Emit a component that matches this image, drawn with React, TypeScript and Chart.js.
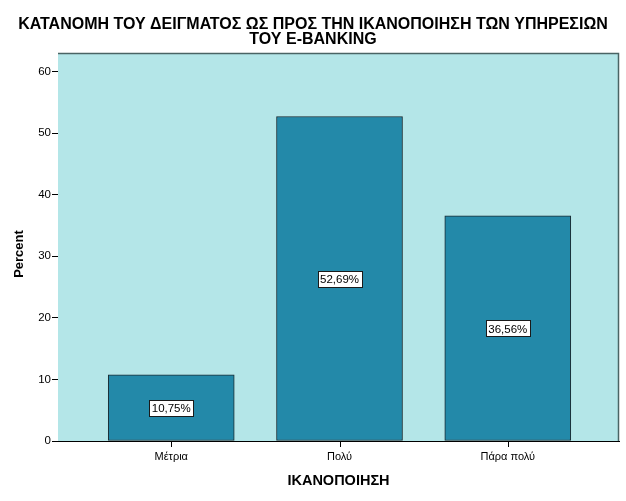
import React from "react";
import { Chart, ChartConfiguration, Plugin, registerables } from "chart.js";

Chart.register(...registerables);

const categories = ["Μέτρια", "Πολύ", "Πάρα πολύ"];
const percents = [10.75, 52.69, 36.56];
const valueLabels = ["10,75%", "52,69%", "36,56%"];
const yTicks = [0, 10, 20, 30, 40, 50, 60];
const titleLines = [
  "ΚΑΤΑΝΟΜΗ ΤΟΥ ΔΕΙΓΜΑΤΟΣ ΩΣ ΠΡΟΣ ΤΗΝ ΙΚΑΝΟΠΟΙΗΣΗ ΤΩΝ ΥΠΗΡΕΣΙΩΝ",
  "ΤΟΥ E-BANKING",
];
const xTitle = "ΙΚΑΝΟΠΟΙΗΣΗ";
const yTitle = "Percent";

const FONT = '"Liberation Sans", Arial, sans-serif';

const spssPlugin: Plugin<"bar"> = {
  id: "spssLook",
  beforeDatasetsDraw(chart) {
    const { ctx, chartArea: a } = chart;
    ctx.save();
    ctx.fillStyle = "#b4e6e8";
    ctx.fillRect(a.left, a.top, a.right - a.left, a.bottom - a.top);
    ctx.restore();
  },
  afterDatasetsDraw(chart) {
    const { ctx, chartArea: a } = chart;
    ctx.save();
    // frame
    ctx.strokeStyle = "#4a6464";
    ctx.lineWidth = 1.5;
    ctx.beginPath();
    ctx.moveTo(a.left, a.top + 0.5);
    ctx.lineTo(a.right - 0.5, a.top + 0.5);
    ctx.lineTo(a.right - 0.5, a.bottom);
    ctx.stroke();

    // x tick marks under the category bars
    const xScale = chart.scales.x;
    ctx.strokeStyle = "#000000";
    ctx.lineWidth = 1;
    categories.forEach((_, i) => {
      const px = Math.round(xScale.getPixelForValue(i)) + 0.5;
      ctx.beginPath();
      ctx.moveTo(px, a.bottom);
      ctx.lineTo(px, a.bottom + 6);
      ctx.stroke();
    });

    // value labels in boxes
    const meta = chart.getDatasetMeta(0);
    const yScale = chart.scales.y;
    ctx.font = `11.5px ${FONT}`;
    ctx.textAlign = "center";
    ctx.textBaseline = "middle";
    meta.data.forEach((bar, i) => {
      const x = bar.x;
      const y = yScale.getPixelForValue(percents[i] / 2);
      const label = valueLabels[i];
      const w = Math.round(ctx.measureText(label).width + 5);
      const h = 16;
      const bx = Math.round(x - w / 2) + 0.5;
      const by = Math.round(y - h / 2) + 0.5;
      ctx.fillStyle = "#ffffff";
      ctx.fillRect(bx, by, w, h);
      ctx.strokeStyle = "#1a1a1a";
      ctx.lineWidth = 1;
      ctx.strokeRect(bx, by, w, h);
      ctx.fillStyle = "#000000";
      ctx.fillText(label, x, y + 1);
    });
    ctx.restore();
  },
  afterDraw(chart) {
    const { ctx, chartArea: a } = chart;
    ctx.save();
    ctx.fillStyle = "#000000";
    ctx.textAlign = "center";
    ctx.textBaseline = "alphabetic";

    ctx.font = `bold 16px ${FONT}`;
    ctx.fillText(titleLines[0], 313, 29);
    ctx.fillText(titleLines[1], 313, 43.5);

    ctx.font = `bold 14.5px ${FONT}`;
    ctx.fillText(xTitle, (a.left + a.right) / 2, 484.5);

    ctx.font = `bold 13px ${FONT}`;
    ctx.translate(23, 254);
    ctx.rotate(-Math.PI / 2);
    ctx.fillText(yTitle, 0, 0);
    ctx.restore();
  },
};

const App: React.FC = () => {
  const canvasRef = React.useRef<HTMLCanvasElement | null>(null);
  const chartRef = React.useRef<Chart<"bar"> | null>(null);

  React.useEffect(() => {
    const ctx = canvasRef.current;
    if (!ctx) return;

    chartRef.current?.destroy();

    const config: ChartConfiguration<"bar"> = {
      type: "bar",
      data: {
        datasets: [
          {
            data: percents.map((p, i) => ({ x: i, y: p })) as any,
            backgroundColor: "#2389a9",
            borderColor: "#1a2a30",
            borderWidth: 1,
            borderSkipped: false,
            barThickness: 126,
          },
        ],
      },
      options: {
        animation: false,
        responsive: true,
        maintainAspectRatio: false,
        layout: { padding: { top: 53, right: 7, left: 0, bottom: 0 } },
        plugins: {
          legend: { display: false },
          tooltip: { enabled: false },
          title: { display: false },
        },
        scales: {
          x: {
            type: "linear",
            offset: false,
            min: -0.673,
            max: 2.661,
            afterBuildTicks: (scale) => {
              scale.ticks = categories.map((_, i) => ({ value: i }));
            },
            afterFit: (scale) => {
              scale.height = 60;
            },
            border: { display: true, color: "#000000", width: 1 },
            grid: {
              offset: false,
              display: false,
            },
            ticks: {
              color: "#000000",
              padding: 1,
              font: { family: FONT, size: 11 },
              maxRotation: 0,
              callback: (v) => categories[Number(v)] ?? "",
            },
          },
          y: {
            min: 0,
            max: 63,
            afterBuildTicks: (scale) => {
              scale.ticks = yTicks.map((v) => ({ value: v }));
            },
            afterFit: (scale) => {
              scale.width = 58;
            },
            border: { display: true, color: "#000000", width: 1 },
            grid: {
              drawOnChartArea: false,
              drawTicks: true,
              tickLength: 6,
              color: "#000000",
            },
            ticks: {
              color: "#000000",
              padding: 1,
              font: { family: FONT, size: 11.5 },
            },
          },
        },
      },
      plugins: [spssPlugin],
    };

    chartRef.current = new Chart(ctx, config);

    return () => {
      chartRef.current?.destroy();
    };
  }, []);

  return (
    <div
      style={{
        position: "fixed",
        left: 0,
        top: 0,
        width: 626,
        height: 501,
        background: "#ffffff",
      }}
    >
      <canvas ref={canvasRef} />
    </div>
  );
};

export default App;
